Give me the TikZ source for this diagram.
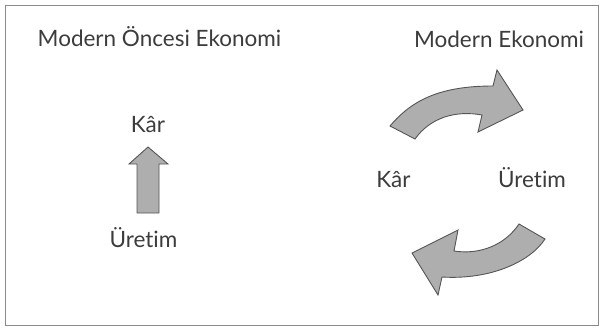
\documentclass[tikz,border=0pt]{standalone}
\usepackage{fontspec}
\setmainfont{Lato}[Ligatures={NoCommon}]
\definecolor{txt}{HTML}{3C3C3C}
\definecolor{arrfill}{HTML}{AEAEAE}
\definecolor{arrline}{HTML}{555555}
\definecolor{framec}{HTML}{8A8A8A}
\tikzset{
  lbl/.style={inner sep=0pt, anchor=base, text=txt, font=\fontsize{22.5}{26}\selectfont},
  blockarrow/.style={fill=arrfill, draw=arrline, line width=0.9pt, line join=miter}
}
\begin{document}
\begin{tikzpicture}[x=1pt,y=-1pt]
\useasboundingbox (0,0) rectangle (602,330);
\draw[framec, line width=0.8pt] (5,5) rectangle (598,325);
% titles
\node[lbl] (t1) at (159.5,46) {Modern Öncesi Ekonomi};
\node[lbl] (t2) at (499,47) {Modern Ekonomi};
% left
\node[lbl] (k1) at (148,132) {Kâr};
\node[lbl] (u1) at (143.5,247) {Üretim};
\draw[blockarrow] (137,213) -- (137,164) -- (129,164) -- (148,147) -- (168,164) -- (159,164) -- (159,213) -- cycle;
% right
\node[lbl] (k2) at (393.5,187) {Kâr};
\node[lbl] (u2) at (532,187) {Üretim};
\draw[blockarrow] (390,126) .. controls (412,100) and (440,86) .. (493,86)
  -- (497,70) -- (523,110) -- (478,132) -- (482,115)
  .. controls (455,110) and (430,118) .. (415,139) -- cycle;
\draw[blockarrow] (519,224) .. controls (505,245) and (480,255) .. (454,251)
  -- (458,230) -- (412,253) -- (438,295) -- (442,277)
  .. controls (490,280) and (530,262) .. (545,239) -- cycle;
\end{tikzpicture}
\end{document}
